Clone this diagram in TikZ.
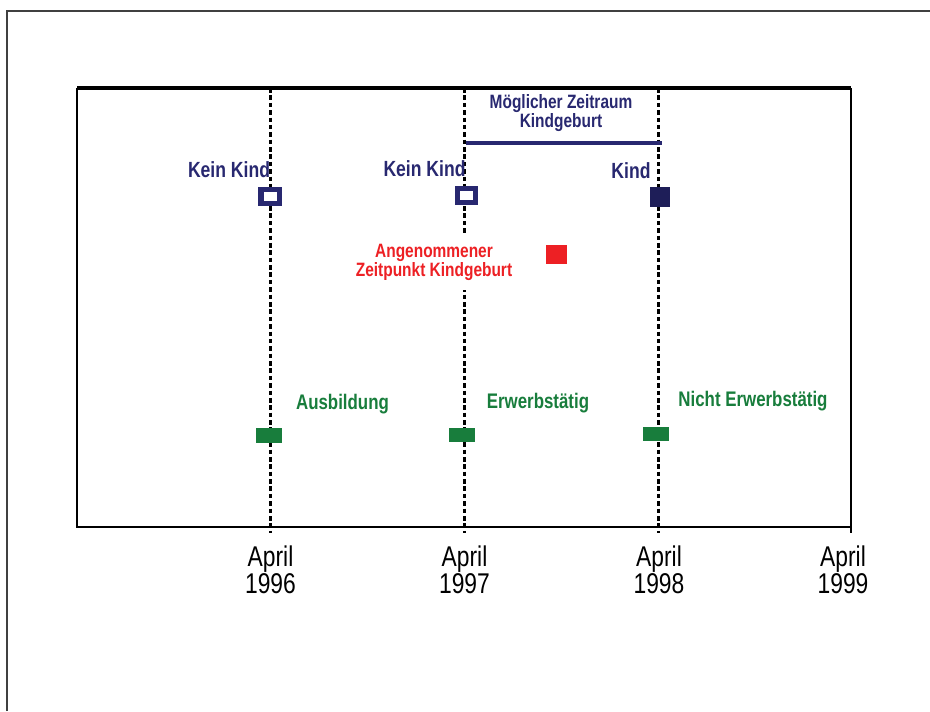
\documentclass[tikz,border=0pt]{standalone}
\usepackage{fontspec}
\setmainfont{Liberation Sans}
\usetikzlibrary{calc}

\definecolor{navy}{RGB}{40,40,112}
\definecolor{darknavy}{RGB}{30,30,88}
\definecolor{markred}{RGB}{237,32,36}
\definecolor{markgreen}{RGB}{24,125,60}
\newcommand{\tall}[1]{\scalebox{1}[1.25]{#1}}

\tikzset{
  outerframe/.style={draw=black!75, line width=0.8pt},
  chartframe/.style={draw=black, line width=1.3pt},
  yearline/.style={draw=black, line width=1.4pt, dash pattern=on 2.6pt off 1.6pt},
  period/.style={draw=navy, line width=2.3pt},
  emptymark/.style={rectangle, draw=navy, fill=white, line width=3.1pt, minimum width=10.5pt, minimum height=7.7pt, inner sep=0pt},
  fullmark/.style={rectangle, fill=darknavy, minimum width=11.9pt, minimum height=11.3pt, inner sep=0pt},
  redmark/.style={rectangle, fill=markred, minimum width=11.9pt, minimum height=10.8pt, inner sep=0pt},
  greenmark/.style={rectangle, fill=markgreen, minimum width=14.7pt, minimum height=8.5pt, inner sep=0pt},
  navylabel/.style={text=navy, font=\fontsize{10}{12}\selectfont\bfseries, inner sep=0pt},
  smalllabel/.style={font=\fontsize{8.8}{11.2}\selectfont\bfseries, align=center, inner sep=0pt},
  greenlabel/.style={text=markgreen, font=\fontsize{9.6}{11}\selectfont\bfseries, inner sep=0pt},
  yearlabel/.style={font=\fontsize{13}{15.4}\selectfont, align=center, inner sep=0pt}
}

\begin{document}
\begin{tikzpicture}[x=0.02cm, y=-0.02cm]
  \useasboundingbox (0,0) rectangle (930,711);

  % frames
  \draw[outerframe] (7,711) -- (7,11) -- (930,11);
  \draw[chartframe] (77,88) -- (77,527) -- (851,527);
  \draw[chartframe] (851,88) -- (851,533);
  \draw[chartframe, line width=1.9pt] (77,88) -- (851,88);

  % year lines
  \coordinate (t96) at (270.5,88);
  \coordinate (t97) at (464.5,88);
  \coordinate (t98) at (658.5,88);
  \draw[yearline] (t96) -- +(0,445);
  \draw[yearline] (t97) -- +(0,445);
  \draw[yearline] (t98) -- +(0,445);

  % possible period of birth
  \node[smalllabel, text=navy] (zeitraum) at (561,113) {\tall{M\"oglicher Zeitraum}\\\tall{Kindgeburt}};
  \coordinate (pstart) at (466,143);
  \coordinate (pend) at (662,143);
  \draw[period] (pstart) -- (pend);

  % child status
  \node[navylabel] (kein96) at (229,170) {\tall{Kein Kind}};
  \node[navylabel] (kein97) at (424.5,169) {\tall{Kein Kind}};
  \node[navylabel] (kind98) at (631,170.5) {\tall{Kind}};
  \node[emptymark] (m96) at (270,196.5) {};
  \node[emptymark] (m97) at (466.5,195.5) {};
  \node[fullmark] (m98) at (660,197) {};

  % assumed date of birth
  \node[smalllabel, text=markred, fill=white, inner xsep=2pt, inner ysep=5pt] (angenommen) at (434,262.5) {\tall{Angenommener}\\\tall{Zeitpunkt Kindgeburt}};
  \node[redmark] (geburt) at (556.5,254.5) {};

  % employment status
  \node[greenmark] (g96) at (269,435.5) {};
  \node[greenmark] (g97) at (462,435) {};
  \node[greenmark] (g98) at (656,434) {};
  \node[greenlabel] (ausbildung) at (342.5,404) {\tall{Ausbildung}};
  \node[greenlabel] (erwerb) at (538,403) {\tall{Erwerbst\"atig}};
  \node[greenlabel] (nichterwerb) at (753,401) {\tall{Nicht Erwerbst\"atig}};

  % axis labels
  \node[yearlabel] (y96) at (270.5,569.5) {\tall{April}\\\tall{1996}};
  \node[yearlabel] (y97) at (464.5,569.5) {\tall{April}\\\tall{1997}};
  \node[yearlabel] (y98) at (659,569.5) {\tall{April}\\\tall{1998}};
  \node[yearlabel] (y99) at (843,569.5) {\tall{April}\\\tall{1999}};
\end{tikzpicture}
\end{document}
